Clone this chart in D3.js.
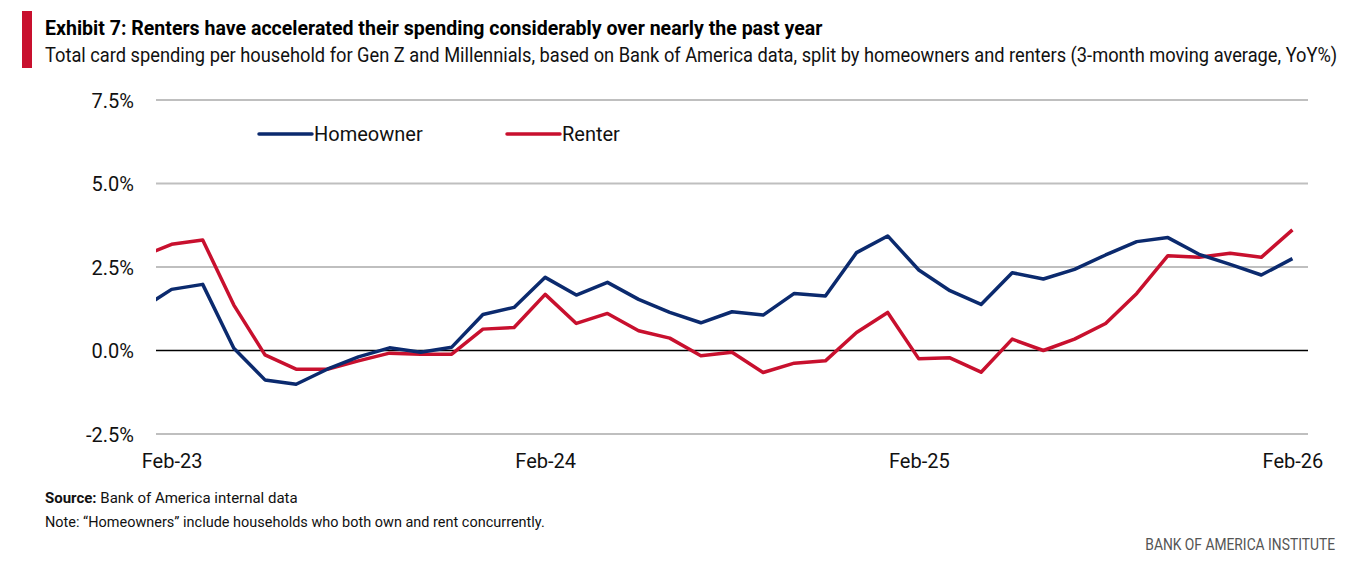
<!DOCTYPE html>
<html>
<head>
<meta charset="utf-8">
<script src="https://cdn.jsdelivr.net/npm/d3@7"></script>
<style>
  body { margin: 0; background: #fff; }
  text { font-family: Roboto, "Noto Sans", sans-serif; }
</style>
</head>
<body>
<div id="chart"></div>
<script>
// monthly points, Jan-23 .. Feb-26 (Jan-23 sits just left of the plot edge)
var months = ['Jan-23','Feb-23','Mar-23','Apr-23','May-23','Jun-23','Jul-23','Aug-23','Sep-23','Oct-23','Nov-23','Dec-23',
              'Jan-24','Feb-24','Mar-24','Apr-24','May-24','Jun-24','Jul-24','Aug-24','Sep-24','Oct-24','Nov-24','Dec-24',
              'Jan-25','Feb-25','Mar-25','Apr-25','May-25','Jun-25','Jul-25','Aug-25','Sep-25','Oct-25','Nov-25','Dec-25',
              'Jan-26','Feb-26'];
var homeowner = [1.23, 1.83, 1.98, 0.07, -0.88, -1.01, -0.56, -0.19, 0.08, -0.05, 0.10, 1.08,
                 1.29, 2.19, 1.66, 2.04, 1.53, 1.14, 0.83, 1.16, 1.06, 1.71, 1.63, 2.93,
                 3.43, 2.41, 1.79, 1.38, 2.33, 2.14, 2.43, 2.86, 3.26, 3.38, 2.88, 2.58,
                 2.26, 2.75];
var renter = [2.80, 3.18, 3.31, 1.36, -0.13, -0.56, -0.56, -0.31, -0.08, -0.11, -0.11, 0.64,
              0.69, 1.68, 0.81, 1.11, 0.59, 0.37, -0.16, -0.05, -0.66, -0.38, -0.31, 0.54,
              1.14, -0.25, -0.22, -0.65, 0.34, 0.00, 0.34, 0.81, 1.71, 2.84, 2.79, 2.91,
              2.79, 3.61];
var yTicks = [-2.5, 0, 2.5, 5, 7.5];
var xTickLabels = ['Feb-23', 'Feb-24', 'Feb-25', 'Feb-26'];

var W = 1356, H = 562;
var plot = { left: 156, right: 1308, top: 100, bottom: 434 };
var blue = '#0b2a6e', red = '#c8102e';

var svg = d3.select('#chart').append('svg')
    .attr('width', W)
    .attr('height', H);

var x = d3.scaleLinear()
    .domain([0.5, months.length - 0.5])
    .range([plot.left, plot.right]);
var y = d3.scaleLinear()
    .domain([-2.5, 7.5])
    .range([plot.bottom, plot.top]);

// squeeze a text horizontally so it spans a given width (the original font is condensed)
function fitText(sel, x0, y0, width, anchorEnd) {
    var w = sel.node().getComputedTextLength();
    var k = Math.min(1, width / w);
    sel.attr('x', 0).attr('y', 0)
       .attr('text-anchor', anchorEnd ? 'end' : 'start')
       .attr('transform', 'translate(' + x0 + ',' + y0 + ') scale(' + k + ',1)');
}

// header
svg.append('rect')
    .attr('x', 22).attr('y', 11)
    .attr('width', 10).attr('height', 57)
    .attr('fill', red);
var title = svg.append('text')
    .attr('font-size', 20)
    .attr('font-weight', 700)
    .attr('fill', '#000')
    .text('Exhibit 7: Renters have accelerated their spending considerably over nearly the past year');
fitText(title, 45, 35, 778);
var sub = svg.append('text')
    .attr('font-size', 20)
    .attr('fill', '#111')
    .text('Total card spending per household for Gen Z and Millennials, based on Bank of America data, split by homeowners and renters (3-month moving average, YoY%)');
fitText(sub, 45, 62, 1293);

// gridlines
svg.append('g')
    .selectAll('line')
    .data(yTicks)
    .enter()
    .append('line')
    .attr('x1', plot.left).attr('x2', plot.right)
    .attr('y1', d => y(d)).attr('y2', d => y(d))
    .attr('stroke', d => d === 0 ? '#000' : '#bfbfbf')
    .attr('stroke-width', d => d === 0 ? 1.6 : 2);

// y labels
var yAxis = d3.axisLeft(y)
    .tickValues(yTicks)
    .tickSize(0)
    .tickPadding(0)
    .tickFormat(d => d.toFixed(1) + '%');
svg.append('g')
    .attr('transform', 'translate(134,0)')
    .call(yAxis)
    .call(g => g.select('.domain').remove())
    .selectAll('text')
    .attr('font-size', 20)
    .attr('font-family', 'Roboto, sans-serif')
    .attr('fill', '#111')
    .attr('dy', '0.35em');

// x labels
var xAxis = d3.axisBottom(x)
    .tickValues(xTickLabels.map(m => months.indexOf(m)))
    .tickSize(0)
    .tickPadding(0)
    .tickFormat(i => months[i]);
svg.append('g')
    .attr('transform', 'translate(0,454)')
    .call(xAxis)
    .call(g => g.select('.domain').remove())
    .selectAll('text')
    .attr('font-size', 20)
    .attr('font-family', 'Roboto, sans-serif')
    .attr('fill', '#111');

// lines, clipped to plot
svg.append('clipPath').attr('id', 'clip')
  .append('rect')
    .attr('x', plot.left).attr('y', 0)
    .attr('width', plot.right - plot.left).attr('height', H);

var line = d3.line()
    .x((d, i) => x(i))
    .y(d => y(d));

var lines = svg.append('g').attr('clip-path', 'url(#clip)');
lines.append('path')
    .datum(renter)
    .attr('d', line)
    .attr('fill', 'none')
    .attr('stroke', red)
    .attr('stroke-width', 3.5)
    .attr('stroke-linejoin', 'round');
lines.append('path')
    .datum(homeowner)
    .attr('d', line)
    .attr('fill', 'none')
    .attr('stroke', blue)
    .attr('stroke-width', 3.5)
    .attr('stroke-linejoin', 'round');

// legend
var legend = [
    { name: 'Homeowner', color: blue, x: 259 },
    { name: 'Renter', color: red, x: 507 }
];
var lg = svg.append('g').selectAll('g')
    .data(legend)
    .enter()
    .append('g')
    .attr('transform', d => 'translate(' + d.x + ',134)');
lg.append('line')
    .attr('x1', 0).attr('x2', 53)
    .attr('stroke', d => d.color)
    .attr('stroke-width', 3.5)
    .attr('stroke-linecap', 'round');
lg.append('text')
    .attr('x', 55).attr('y', 7)
    .attr('font-size', 20)
    .attr('fill', '#111')
    .text(d => d.name);

// footer
var src = svg.append('text')
    .attr('font-size', 15)
    .attr('fill', '#111');
src.append('tspan').attr('font-weight', 700).text('Source:');
src.append('tspan').text(' Bank of America internal data');
fitText(src, 45, 503, 255);
var note = svg.append('text')
    .attr('font-size', 15)
    .attr('fill', '#111')
    .text('Note: \u201cHomeowners\u201d include households who both own and rent concurrently.');
fitText(note, 45, 527, 500);
var inst = svg.append('text')
    .attr('font-size', 16)
    .attr('fill', '#555')
    .text('BANK OF AMERICA INSTITUTE');
fitText(inst, 1335, 550, 190, true);
</script>
</body>
</html>
